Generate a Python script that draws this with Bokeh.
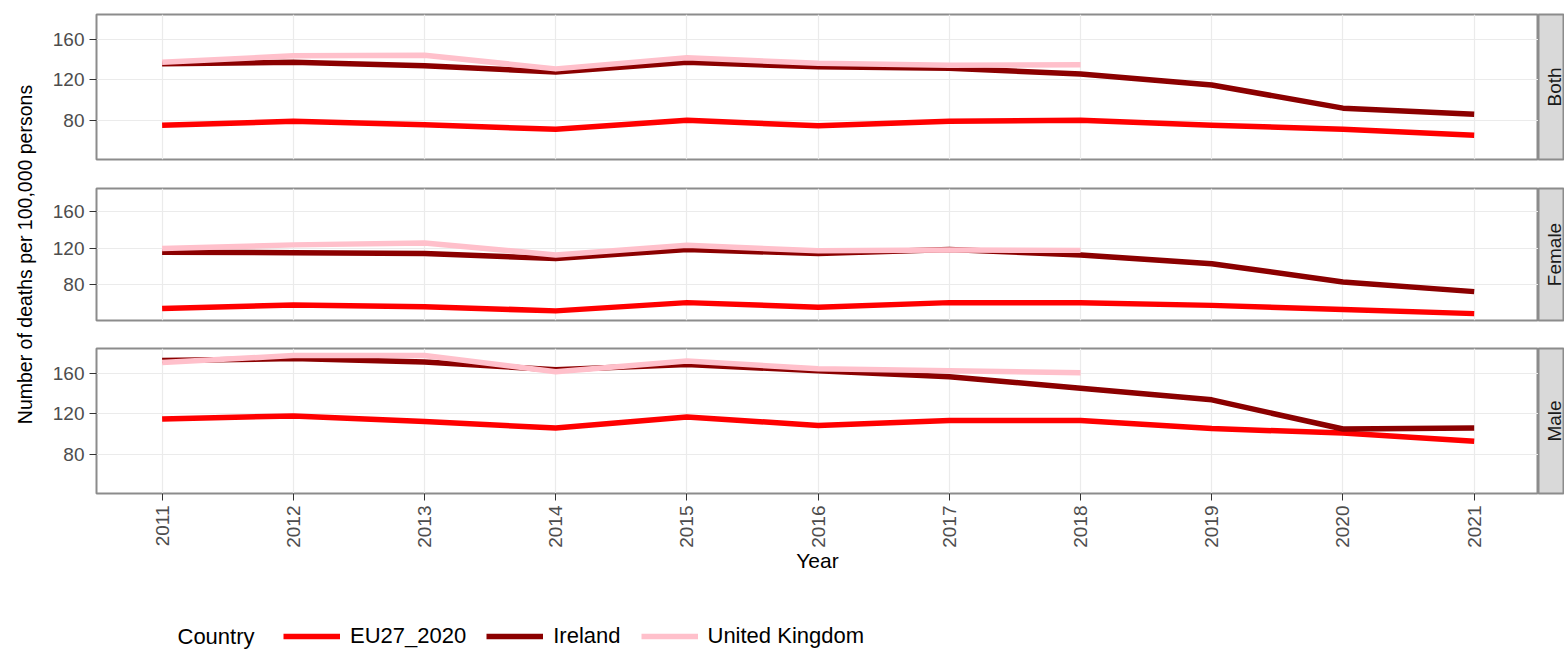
import math
from bokeh.plotting import figure
from bokeh.layouts import row, column
from bokeh.models import Range1d, FixedTicker, Label, Legend, LegendItem
from bokeh.embed import file_html
from bokeh.resources import INLINE

# ---------------- data ----------------
years = list(range(2011, 2022))
uk_years = list(range(2011, 2019))
sexes = ["Both", "Female", "Male"]
countries = ["EU27_2020", "Ireland", "United Kingdom"]
colors = ["#FF0000", "#8B0000", "#FFC0CB"]

eu_both = [75, 79, 75.5, 71, 80, 74.5, 79, 80, 75, 71, 65]
ie_both = [136, 137.5, 134, 128, 137.5, 133, 131.5, 126, 115, 92, 86]
uk_both = [137.5, 144, 144.5, 131, 142, 136.5, 134.5, 135]

eu_female = [54, 58, 56, 51.5, 60.5, 55.5, 60.5, 60.5, 57.5, 53, 48.5]
ie_female = [115.5, 115, 114, 108.5, 118.5, 114, 118.5, 112.5, 103, 83, 72.5]
uk_female = [119.5, 123.5, 125.5, 112.5, 123, 117, 118, 117.5]

eu_male = [115, 118, 112.5, 106, 117, 108.5, 113.5, 113.5, 105.5, 101, 93]
ie_male = [173, 175, 171.5, 164, 169, 163, 157, 145.5, 134, 105, 106]
uk_male = [171, 178, 178, 162, 172.5, 165, 163, 161]

y_ticks = [80, 120, 160]
y_title = "Number of deaths per 100,000 persons"
x_title = "Year"
legend_title = "Country"

# ---------------- styling ----------------
FONT = "Liberation Sans"
BORDER = "#8c8c8c"
GRID = "#ebebeb"
TICK_TXT = "#4d4d4d"
FRAME_W = 1442
LEFT = 58
LINE_W = 5.5

panel_specs = [
    ("Both", eu_both, ie_both, uk_both, 145, 14, 14, False),
    ("Female", eu_female, ie_female, uk_female, 132, 15, 14, False),
    ("Male", eu_male, ie_male, uk_male, 145, 14, 90, True),
]


def make_panel(eu, ie, uk, fh, top, bottom, show_x):
    p = figure(frame_width=FRAME_W, frame_height=fh,
               x_range=Range1d(2010.5, 2021.49), y_range=Range1d(41, 185),
               output_backend="svg", toolbar_location=None,
               min_border_left=LEFT, min_border_right=0,
               min_border_top=top, min_border_bottom=bottom)
    p.background_fill_color = "white"
    p.border_fill_color = "white"
    p.outline_line_color = BORDER
    p.outline_line_width = 2
    p.xgrid.ticker = FixedTicker(ticks=years)
    p.ygrid.ticker = FixedTicker(ticks=y_ticks)
    p.grid.grid_line_color = GRID
    p.grid.grid_line_width = 1.2
    p.grid.minor_grid_line_color = None

    ya = p.yaxis[0]
    ya.ticker = FixedTicker(ticks=y_ticks)
    ya.axis_line_color = None
    ya.major_tick_line_color = "#333333"
    ya.major_tick_out = 7
    ya.major_tick_in = 0
    ya.minor_tick_line_color = None
    ya.major_label_text_font = FONT
    ya.major_label_text_font_size = "19px"
    ya.major_label_text_color = TICK_TXT
    ya.major_label_standoff = 5

    xa = p.xaxis[0]
    if show_x:
        xa.ticker = FixedTicker(ticks=years)
        xa.axis_line_color = None
        xa.major_tick_line_color = "#333333"
        xa.major_tick_out = 7
        xa.major_tick_in = 0
        xa.minor_tick_line_color = None
        xa.major_label_orientation = math.pi / 2
        xa.major_label_text_font = FONT
        xa.major_label_text_font_size = "19px"
        xa.major_label_text_color = TICK_TXT
        xa.major_label_standoff = 5
        xa.axis_label = x_title
        xa.axis_label_text_font = FONT
        xa.axis_label_text_font_size = "21px"
        xa.axis_label_text_font_style = "normal"
        xa.axis_label_text_color = "black"
        xa.axis_label_standoff = -2
    else:
        xa.visible = False

    series = [(years, eu), (years, ie), (uk_years, uk)]
    for (xs, ys), c in zip(series, colors):
        p.line(xs, ys, line_color=c, line_width=LINE_W, line_join="round")
    return p


def make_strip(label, fh, top, bottom):
    s = figure(frame_width=26, frame_height=fh,
               x_range=Range1d(0, 26), y_range=Range1d(0, 1),
               x_axis_type=None, y_axis_type=None,
               output_backend="svg", toolbar_location=None,
               min_border_left=0, min_border_right=0,
               min_border_top=top, min_border_bottom=bottom)
    s.background_fill_color = "#d9d9d9"
    s.border_fill_color = "white"
    s.outline_line_color = BORDER
    s.outline_line_width = 2
    s.add_layout(Label(x=16, y=0.5, text=label, angle=math.pi / 2,
                       text_align="center", text_baseline="middle",
                       text_font=FONT, text_font_size="19px",
                       text_color="#1a1a1a"))
    return s


panels = []
strips = []
for sex, eu, ie, uk, fh, top, bottom, show_x in panel_specs:
    panels.append(make_panel(eu, ie, uk, fh, top, bottom, show_x))
    strips.append(make_strip(sex, fh, top, bottom))

total_h = sum(fh + top + bottom for _, _, _, _, fh, top, bottom, _ in panel_specs)

# y-axis title figure
YT_W = 38
yt = figure(width=YT_W, height=total_h, x_range=Range1d(0, YT_W), y_range=Range1d(0, total_h),
            x_axis_type=None, y_axis_type=None, output_backend="svg",
            toolbar_location=None, min_border=0)
yt.outline_line_color = None
yt.background_fill_color = "white"
yt.border_fill_color = "white"
yt.add_layout(Label(x=24, y=total_h - 254, text=y_title, angle=math.pi / 2,
                    text_align="center", text_baseline="middle",
                    text_font=FONT, text_font_size="19.5px", text_color="black"))

# legend figure
LW, LH = 1564, 66
lf = figure(width=LW, height=LH, x_range=Range1d(0, LW), y_range=Range1d(0, LH),
            x_axis_type=None, y_axis_type=None, output_backend="svg",
            toolbar_location=None, min_border=0)
lf.outline_line_color = None
lf.background_fill_color = "white"
lf.border_fill_color = "white"
items = []
legend_series = [(years, eu_both), (years, ie_both), (uk_years, uk_both)]
for name, c, (xs, ys) in zip(countries, colors, legend_series):
    r = lf.line(xs, ys, line_color=c, line_width=LINE_W)
    r.visible = False
    items.append(LegendItem(label=name, renderers=[r]))
leg = Legend(items=items, orientation="horizontal", location=(283, 0),
             padding=0, margin=0, spacing=20, label_standoff=10,
             glyph_width=57, glyph_height=24, label_height=24,
             label_text_font=FONT, label_text_font_size="22px",
             label_text_color="black",
             inactive_fill_alpha=0,
             border_line_color=None, background_fill_alpha=0)
lf.add_layout(leg)
lf.add_layout(Label(x=177, y=13.5, text=legend_title, text_align="left",
                    text_baseline="middle", text_font=FONT,
                    text_font_size="22px", text_color="black"))

layout = column(row(yt, column(*panels), column(*strips)), lf)

open("out.html", "w").write(file_html(layout, INLINE))
